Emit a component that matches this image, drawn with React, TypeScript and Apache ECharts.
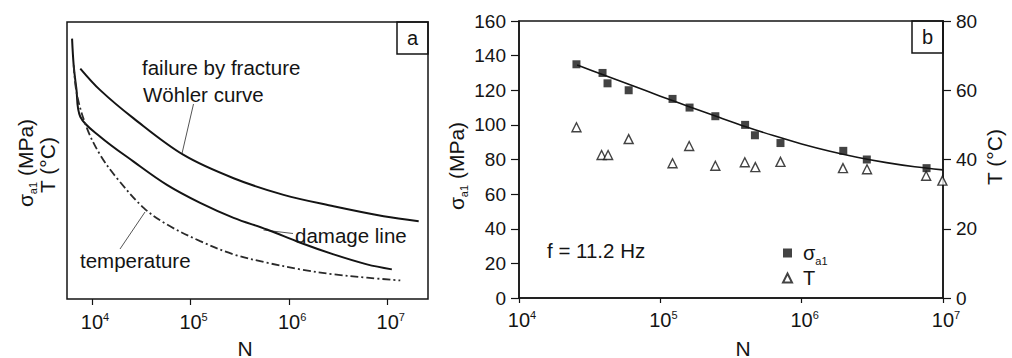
import React, { useEffect, useRef } from 'react';
import * as echarts from 'echarts';

const FONT = "'Liberation Sans', Arial, Helvetica, sans-serif";
const INK = '#141414';

// ---- Panel a (schematic curves, arbitrary stress/temperature units 0..100) ----
const wohlerN = [7600, 12100, 26400, 84900, 273000, 877000, 2820000, 9080000, 20600000];
const wohlerVal = [83.2, 75.4, 65.2, 52.0, 43.6, 37.6, 33.5, 29.9, 28.1];

const damageN = [6270, 6510, 6930, 7600, 12100, 26400, 57500, 125000, 273000, 594000, 1300000, 2820000, 6150000, 11000000];
const damageVal = [94.0, 84.4, 76.0, 65.8, 58.6, 49.6, 41.2, 34.7, 29.3, 25.1, 20.3, 16.1, 12.5, 10.7];

const tempCurveN = [6510, 7040, 8890, 12100, 17900, 33400, 57500, 125000, 273000, 594000, 1300000, 2820000, 6150000, 13400000];
const tempCurveVal = [84.4, 73.6, 61.6, 52.0, 43.6, 32.9, 26.9, 20.9, 16.1, 13.1, 10.7, 8.9, 7.7, 6.7];

// ---- Panel b (measured data, f = 11.2 Hz) ----
const sigmaN = [25500, 39000, 42300, 59700, 122000, 161000, 245000, 398000, 467000, 708000, 1970000, 2890000, 7650000];
const sigmaVal = [135, 130, 124, 120, 115, 110, 105, 100, 94, 89.5, 85, 80, 75];

const tempN = [25500, 38400, 42700, 59700, 122000, 160000, 245000, 396000, 470000, 708000, 1960000, 2900000, 7600000, 9900000];
const tempT = [49.3, 41.3, 41.3, 45.9, 38.9, 43.9, 38.2, 39.2, 37.8, 39.3, 37.5, 37.2, 35.3, 33.9];

const fitN = [25800, 39800, 63100, 100000, 158500, 251200, 398100, 631000, 1000000, 1585000, 2512000, 3981000, 6310000, 10000000];
const fitVal = [134.6, 128.8, 122.7, 116.6, 110.6, 104.8, 99.1, 93.8, 89.0, 84.8, 81.2, 78.2, 75.8, 74.0];

export default function App() {
  const ref = useRef<HTMLDivElement>(null);

  useEffect(() => {
    const chart = echarts.init(ref.current!, null, { renderer: 'svg' });
    const pair = (xs: number[], ys: number[]) => xs.map((x, i) => [x, ys[i]]);
    const powLabel = (v: number) => `{pad|}10{sup|${Math.round(Math.log10(v))}}`;
    const powRich = {
      pad: { width: 6 },
      sup: { fontSize: 11, verticalAlign: 'top', lineHeight: 11, fontFamily: FONT, color: INK },
    };
    const subRich = {
      sub: { fontSize: 11, verticalAlign: 'bottom', lineHeight: 11, fontFamily: FONT, color: INK, padding: [0, 0, -2, 0] },
    };
    const txt = (text: string, x: number, y: number, extra: any = {}) => ({
      type: 'text',
      x,
      y,
      ...extra.el,
      style: {
        text,
        fontFamily: FONT,
        fontSize: 20,
        fill: INK,
        align: 'left',
        verticalAlign: 'middle',
        ...(extra.style || {}),
      },
    });

    const axisLineStyle = { color: INK, width: 1.5 };

    chart.setOption({
      animation: false,
      backgroundColor: '#fff',
      textStyle: { fontFamily: FONT, color: INK },
      grid: [
        { left: 67, top: 22, width: 361, height: 277, show: true, borderColor: INK, borderWidth: 1.5, backgroundColor: 'transparent' },
        { left: 92, top: 22, width: 295.7, height: 277, show: false },
        { left: 519, top: 21, width: 424, height: 277, show: true, borderColor: INK, borderWidth: 1.5, backgroundColor: 'transparent' },
      ],
      xAxis: [
        { type: 'log', gridIndex: 0, min: 5570, max: 25600000, show: false },
        {
          type: 'log', gridIndex: 1, min: 1e4, max: 1e7, logBase: 10,
          axisLine: { show: false },
          axisTick: { show: true, inside: false, length: 6, lineStyle: { color: INK, width: 1.2 } },
          axisLabel: { margin: 12, fontSize: 20, lineHeight: 22, color: INK, fontFamily: FONT, formatter: powLabel, rich: powRich },
          splitLine: { show: false },
        },
        {
          type: 'log', gridIndex: 2, min: 1e4, max: 1e7, logBase: 10,
          axisLine: { show: true, lineStyle: axisLineStyle },
          axisTick: { show: true, inside: false, length: 5, lineStyle: { color: INK, width: 1.2 } },
          axisLabel: { margin: 11, fontSize: 20, lineHeight: 22, color: INK, fontFamily: FONT, formatter: powLabel, rich: powRich },
          splitLine: { show: false },
          minorTick: { show: false },
        },
      ],
      yAxis: [
        { type: 'value', gridIndex: 0, min: 0, max: 100, show: false },
        { type: 'value', gridIndex: 1, min: 0, max: 1, show: false },
        {
          type: 'value', gridIndex: 2, position: 'left', min: 0, max: 160, interval: 20,
          axisLine: { show: true, lineStyle: axisLineStyle },
          axisTick: { show: true, inside: false, length: 8, lineStyle: { color: INK, width: 1.2 } },
          axisLabel: { margin: 13, fontSize: 19, color: INK, fontFamily: FONT },
          splitLine: { show: false },
        },
        {
          type: 'value', gridIndex: 2, position: 'right', min: 0, max: 80, interval: 20,
          axisLine: { show: true, lineStyle: axisLineStyle },
          axisTick: { show: true, inside: false, length: 8, lineStyle: { color: INK, width: 1.2 } },
          axisLabel: { margin: 13, fontSize: 19, color: INK, fontFamily: FONT },
          splitLine: { show: false },
        },
      ],
      legend: {
        data: ['sigma', 'T'],
        orient: 'vertical',
        left: 777,
        top: 237,
        itemWidth: 9,
        itemHeight: 9,
        itemGap: 1,
        formatter: (name: string) => (name === 'sigma' ? 'σ{sub|a1}' : 'T'),
        textStyle: { fontSize: 20, lineHeight: 22, color: INK, fontFamily: FONT, padding: [0, 0, 0, 6], rich: subRich },
        selectedMode: false,
      },
      series: [
        {
          name: 'wohler', type: 'line', xAxisIndex: 0, yAxisIndex: 0, data: pair(wohlerN, wohlerVal),
          showSymbol: false, smooth: 0.35, lineStyle: { color: INK, width: 2 },
        },
        {
          name: 'damage', type: 'line', xAxisIndex: 0, yAxisIndex: 0, data: pair(damageN, damageVal),
          showSymbol: false, smooth: 0.35, lineStyle: { color: INK, width: 2 },
        },
        {
          name: 'temperature', type: 'line', xAxisIndex: 0, yAxisIndex: 0, data: pair(tempCurveN, tempCurveVal),
          showSymbol: false, smooth: 0.35, lineStyle: { color: '#2a2a2a', width: 1.8, type: [8, 3, 2, 3] },
        },
        {
          name: 'fit', type: 'line', xAxisIndex: 2, yAxisIndex: 2, data: pair(fitN, fitVal),
          showSymbol: false, smooth: 0.3, z: 1, lineStyle: { color: INK, width: 1.6 },
        },
        {
          name: 'sigma', type: 'scatter', xAxisIndex: 2, yAxisIndex: 2, data: pair(sigmaN, sigmaVal),
          symbol: 'rect', symbolSize: 8, z: 3, itemStyle: { color: INK },
        },
        {
          name: 'T', type: 'scatter', xAxisIndex: 2, yAxisIndex: 3, data: pair(tempN, tempT),
          symbol: 'triangle', symbolSize: 9, z: 3, itemStyle: { color: '#fff', borderColor: INK, borderWidth: 1.4 },
        },
      ],
      graphic: [
        // panel a label box
        { type: 'rect', shape: { x: 397, y: 22, width: 31, height: 32 }, style: { fill: 'none', stroke: INK, lineWidth: 1.5 } },
        txt('a', 412.5, 38, { style: { align: 'center' } }),
        // panel b label box
        { type: 'rect', shape: { x: 912, y: 21, width: 31, height: 32 }, style: { fill: 'none', stroke: INK, lineWidth: 1.5 } },
        txt('b', 927.5, 37, { style: { align: 'center' } }),
        // panel a annotations
        txt('failure by fracture', 142, 67, { style: { fontSize: 20.5 } }),
        txt('Wöhler curve', 143, 94, { style: { fontSize: 20.5 } }),
        txt('damage line', 295, 235, { style: { fontSize: 20.5 } }),
        txt('temperature', 80, 260, { style: { fontSize: 20.5 } }),
        { type: 'line', shape: { x1: 193.5, y1: 104, x2: 182, y2: 153.5 }, style: { stroke: '#555', lineWidth: 1 } },
        { type: 'line', shape: { x1: 263.5, y1: 230, x2: 293, y2: 233.5 }, style: { stroke: '#555', lineWidth: 1 } },
        { type: 'line', shape: { x1: 145, y1: 212, x2: 120, y2: 249 }, style: { stroke: '#555', lineWidth: 1 } },
        // axis titles
        txt('σ{sub|a1} (MPa)', 25, 163, { el: { rotation: Math.PI / 2 }, style: { align: 'center', fontSize: 21, lineHeight: 22, rich: subRich } }),
        txt('T (°C)', 47, 165, { el: { rotation: Math.PI / 2 }, style: { align: 'center', fontSize: 21 } }),
        txt('N', 245, 348, { style: { align: 'center', fontSize: 21 } }),
        txt('σ{sub|a1} (MPa)', 456, 166, { el: { rotation: Math.PI / 2 }, style: { align: 'center', fontSize: 21, lineHeight: 22, rich: subRich } }),
        txt('T (°C)', 994, 157, { el: { rotation: Math.PI / 2 }, style: { align: 'center', fontSize: 21 } }),
        txt('N', 743, 348, { style: { align: 'center', fontSize: 21 } }),
        txt('f = 11.2 Hz', 547, 250, { style: { fontSize: 20.5 } }),
      ],
    });

    return () => chart.dispose();
  }, []);

  return (
    <div
      ref={ref}
      style={{ position: 'absolute', left: 0, top: 0, width: 1012, height: 358, background: '#fff' }}
    />
  );
}
